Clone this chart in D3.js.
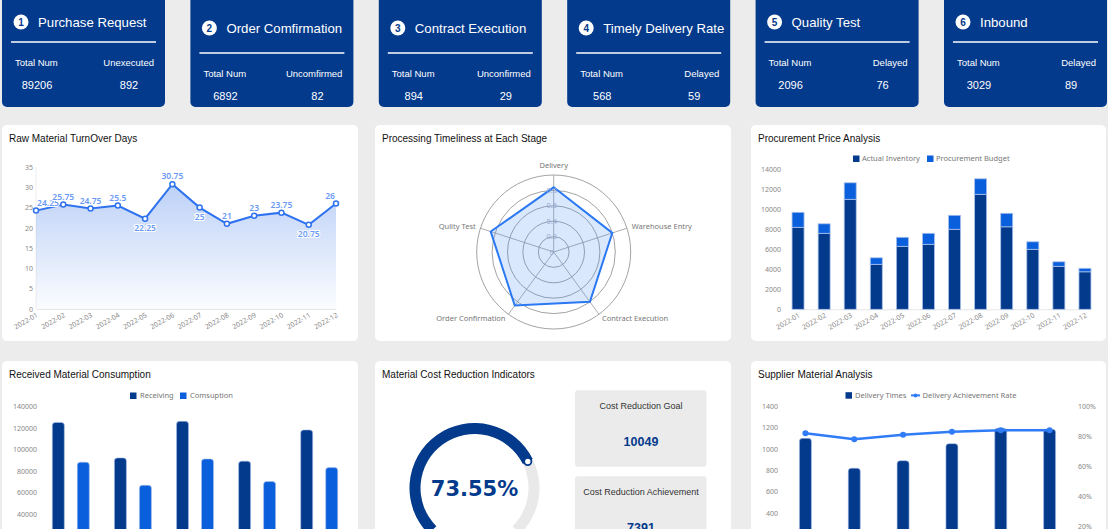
<!DOCTYPE html>
<html>
<head>
<meta charset="utf-8">
<script src="https://cdn.jsdelivr.net/npm/d3@7"></script>
<style>
  body { margin: 0; background: #ececec; overflow: hidden; }
  svg { display: block; }
  .axis text { font-family: 'Noto Sans', sans-serif; font-size: 7px; fill: #888; }
  .legend text { font-family: 'Noto Sans', sans-serif; font-size: 7.5px; fill: #777; }
</style>
</head>
<body>
<svg id="dash" width="1108" height="529"></svg>
<script>
/* globals d3 */

// ---- top cards
const cardTitles = ['Purchase Request', 'Order Comfirmation', 'Contract Execution', 'Timely Delivery Rate', 'Quality Test', 'Inbound']
const cardLeftLabels = ['Total Num', 'Total Num', 'Total Num', 'Total Num', 'Total Num', 'Total Num']
const cardRightLabels = ['Unexecuted', 'Uncomfirmed', 'Unconfirmed', 'Delayed', 'Delayed', 'Delayed']
const cardTotals = [89206, 6892, 894, 568, 2096, 3029]
const cardPending = [892, 82, 29, 59, 76, 89]

// ---- raw material turnover
const months = ['2022-01', '2022-02', '2022-03', '2022-04', '2022-05', '2022-06', '2022-07', '2022-08', '2022-09', '2022-10', '2022-11', '2022-12']
const turnoverDays = [24.25, 25.75, 24.75, 25.5, 22.25, 30.75, 25, 21, 23, 23.75, 20.75, 26]
const turnoverBelow = [false, false, false, false, true, false, true, false, false, false, true, false]

// ---- radar
const radarStages = ['Delivery', 'Warehouse Entry', 'Contract Execution', 'Order Confirmation', 'Qulity Test']
const radarValues = [0.84, 0.8, 0.8, 0.86, 0.86]
const radarTicks = [0, 0.2, 0.4, 0.6, 0.8]

// ---- procurement price
const actualInventory = [8200, 7600, 11000, 4500, 6300, 6500, 8000, 11500, 8250, 6000, 4300, 3750]
const procurementBudget = [1500, 950, 1650, 650, 900, 1100, 1400, 1550, 1350, 750, 450, 350]

// ---- received material consumption
const materialGroups = ['Steel', 'Copper', 'Aluminum', 'Plastic', 'Rubber']
const receiving = [125000, 92000, 126000, 89000, 118000]
const consumption = [88000, 66500, 91000, 70000, 83000]

// ---- cost reduction
const reductionRate = 0.7355
const reductionGoal = 10049
const reductionAchieved = 7391

// ---- supplier analysis
const suppliers = ['Supplier A', 'Supplier B', 'Supplier C', 'Supplier D', 'Supplier E', 'Supplier F']
const deliveryTimes = [1100, 820, 890, 1050, 1195, 1185]
const deliveryRate = [0.82, 0.78, 0.81, 0.83, 0.84, 0.84]

const NAVY = '#033a8c'
const BLUE = '#0a5fdc'
const LINE_BLUE = '#2f72ef'
const TITLE_FONT = "'Liberation Sans', Arial, sans-serif"

const svg = d3.select('#dash')

// ---------- top cards
cardTitles.forEach(function (title, i) {
  const low = i >= 1 && i <= 3
  const g = svg.append('g').attr('transform', 'translate(' + (2 + i * 188.4) + ',0)')
  g.append('rect').attr('x', 0).attr('y', -6).attr('width', 163).attr('height', 113)
    .attr('rx', 5).attr('fill', NAVY)
  const cy = low ? 28 : 22
  g.append('circle').attr('cx', 19).attr('cy', cy).attr('r', 7.5).attr('fill', '#fff')
  g.append('text').attr('x', 19).attr('y', cy + 3.6).attr('text-anchor', 'middle')
    .style('font', 'bold 10px ' + TITLE_FONT).attr('fill', NAVY).text(i + 1)
  g.append('text').attr('x', 36).attr('y', cy + 4.7)
    .style('font', '13.2px ' + TITLE_FONT).attr('fill', '#fff').text(title)
  const ly = low ? 53 : 42
  g.append('line').attr('x1', 9).attr('x2', 154).attr('y1', ly).attr('y2', ly)
    .attr('stroke', '#fff').attr('stroke-width', 1.6)
  g.append('text').attr('x', 13).attr('y', ly + 23.5)
    .style('font', '9.5px ' + TITLE_FONT).attr('fill', '#fff').text(cardLeftLabels[i])
  g.append('text').attr('x', 152).attr('y', ly + 23.5).attr('text-anchor', 'end')
    .style('font', '9.5px ' + TITLE_FONT).attr('fill', '#fff').text(cardRightLabels[i])
  g.append('text').attr('x', 35).attr('y', ly + 47).attr('text-anchor', 'middle')
    .style('font', '11px ' + TITLE_FONT).attr('fill', '#fff').text(cardTotals[i])
  g.append('text').attr('x', 127).attr('y', ly + 47).attr('text-anchor', 'middle')
    .style('font', '11px ' + TITLE_FONT).attr('fill', '#fff').text(cardPending[i])
})

// ---------- panels
function panel (x, y, w, h, title) {
  svg.append('rect').attr('x', x).attr('y', y).attr('width', w).attr('height', h)
    .attr('rx', 5).attr('fill', '#fff')
  svg.append('text').attr('x', x + 7).attr('y', y + 17)
    .style('font', '10px ' + TITLE_FONT).attr('fill', '#111').text(title)
}
panel(2, 125, 356, 216, 'Raw Material TurnOver Days')
panel(375, 125, 356, 216, 'Processing Timeliness at Each Stage')
panel(751, 125, 355, 216, 'Procurement Price Analysis')
panel(2, 361, 356, 200, 'Received Material Consumption')
panel(375, 361, 356, 200, 'Material Cost Reduction Indicators')
panel(751, 361, 355, 200, 'Supplier Material Analysis')

function rotatedXAxis (scale, y) {
  const ax = svg.append('g').attr('class', 'axis').attr('transform', 'translate(0,' + y + ')')
    .call(d3.axisBottom(scale).tickSize(0))
  ax.select('.domain').attr('stroke', '#e6e6e6')
  ax.selectAll('text').attr('x', -2).attr('y', 5).attr('dy', '0.35em')
    .attr('transform', 'rotate(-30)').style('text-anchor', 'end')
  return ax
}
function leftAxis (scale, x, ticks, fmt) {
  const ax = svg.append('g').attr('class', 'axis').attr('transform', 'translate(' + x + ',0)')
    .call(d3.axisLeft(scale).tickValues(ticks).tickSize(0).tickPadding(3).tickFormat(fmt || d3.format('d')))
  ax.select('.domain').remove()
  return ax
}
function topRounded (x, y, w, h, r) {
  return 'M' + x + ',' + (y + h) + 'V' + (y + r) + 'Q' + x + ',' + y + ' ' + (x + r) + ',' + y +
    'H' + (x + w - r) + 'Q' + (x + w) + ',' + y + ' ' + (x + w) + ',' + (y + r) + 'V' + (y + h) + 'Z'
}

// ---------- chart 1: turnover line
;(function () {
  const x = d3.scalePoint().domain(months).range([36, 336])
  const y = d3.scaleLinear().domain([0, 35]).range([309, 167])
  leftAxis(y, 36, d3.range(0, 36, 5))
  svg.append('line').attr('x1', 36).attr('x2', 36).attr('y1', 167).attr('y2', 309).attr('stroke', '#eee')
  rotatedXAxis(x, 309)

  const grad = svg.append('defs').append('linearGradient').attr('id', 'turnGrad')
    .attr('x1', 0).attr('x2', 0).attr('y1', 0).attr('y2', 1)
  grad.append('stop').attr('offset', '0%').attr('stop-color', '#2f6fe8').attr('stop-opacity', 0.32)
  grad.append('stop').attr('offset', '100%').attr('stop-color', '#2f6fe8').attr('stop-opacity', 0.02)

  const pts = months.map(function (m, i) { return { m: m, v: turnoverDays[i], below: turnoverBelow[i] } })
  svg.append('path').datum(pts).attr('fill', 'url(#turnGrad)')
    .attr('d', d3.area().x(d => x(d.m)).y0(y(0)).y1(d => y(d.v)))
  svg.append('path').datum(pts).attr('fill', 'none').attr('stroke', LINE_BLUE).attr('stroke-width', 2)
    .attr('d', d3.line().x(d => x(d.m)).y(d => y(d.v)))
  svg.selectAll('.tp').data(pts).enter().append('circle')
    .attr('cx', d => x(d.m)).attr('cy', d => y(d.v)).attr('r', 2.5)
    .attr('fill', '#fff').attr('stroke', LINE_BLUE).attr('stroke-width', 1.5)
  // labels kept inside the plot edges
  svg.selectAll('.tl').data(pts).enter().append('text')
    .attr('x', d => Math.min(Math.max(x(d.m), 48), 330))
    .attr('y', d => y(d.v) + (d.below ? 12 : -5))
    .attr('text-anchor', 'middle')
    .style('font', '600 8.5px "Noto Sans", sans-serif')
    .attr('fill', '#6a9af6').attr('stroke', '#fff').attr('stroke-width', 2)
    .attr('paint-order', 'stroke').text(d => d.v)
})()

// ---------- chart 2: radar
;(function () {
  const cx = 553.7
  const cy = 252
  const r = d3.scaleLinear().domain([0, 1]).range([0, 77])
  const g = svg.append('g').attr('transform', 'translate(' + cx + ',' + cy + ')')
  const angle = i => i * 2 * Math.PI / radarStages.length
  ;[0.2, 0.4, 0.6, 0.8, 1].forEach(function (t) {
    g.append('circle').attr('r', r(t)).attr('fill', 'none').attr('stroke', '#8c8c8c').attr('stroke-width', 0.8)
  })
  radarStages.forEach(function (s, i) {
    const a = angle(i)
    g.append('line').attr('x2', r(1) * Math.sin(a)).attr('y2', -r(1) * Math.cos(a))
      .attr('stroke', '#999').attr('stroke-width', 0.8)
    const lx = (r(1) + 5) * Math.sin(a)
    const ly = -(r(1) + 5) * Math.cos(a)
    const sn = Math.sin(a)
    g.append('text').attr('x', lx).attr('y', ly + (Math.cos(a) > 0.9 ? -2 : 2.5))
      .attr('text-anchor', sn > 0.1 ? 'start' : (sn < -0.1 ? 'end' : 'middle'))
      .style('font', '7.5px "Noto Sans", sans-serif').attr('fill', '#777').text(s)
  })
  g.append('path').datum(radarValues)
    .attr('d', d3.lineRadial().angle((d, i) => angle(i)).radius(d => r(d)).curve(d3.curveLinearClosed))
    .attr('fill', 'rgba(70,140,245,0.2)').attr('stroke', '#2a78f2').attr('stroke-width', 2)
  radarTicks.forEach(function (t) {
    g.append('text').attr('x', -2).attr('y', -r(t) + 2.5).attr('text-anchor', 'middle')
      .style('font', '7.5px "Noto Sans", sans-serif').attr('fill', '#9aabd0').text(t)
  })
})()

// ---------- chart 3: procurement stacked bars
;(function () {
  const x = d3.scaleBand().domain(months).range([785, 1098])
  const y = d3.scaleLinear().domain([0, 14000]).range([309.3, 169.3])
  leftAxis(y, 784, d3.range(0, 14001, 2000))
  rotatedXAxis(d3.scalePoint().domain(months).range([x(months[0]) + x.bandwidth() / 2, x(months[11]) + x.bandwidth() / 2]), 309.3)
  const bw = 12
  months.forEach(function (m, i) {
    const cx = x(m) + x.bandwidth() / 2
    svg.append('rect').attr('x', cx - bw / 2).attr('y', y(actualInventory[i]))
      .attr('width', bw).attr('height', y(0) - y(actualInventory[i]))
      .attr('fill', NAVY).attr('stroke', '#a9c0ea').attr('stroke-width', 0.8)
    const top = actualInventory[i] + procurementBudget[i]
    svg.append('rect').attr('x', cx - bw / 2).attr('y', y(top))
      .attr('width', bw).attr('height', y(actualInventory[i]) - y(top))
      .attr('fill', BLUE).attr('stroke', '#a9c0ea').attr('stroke-width', 0.8)
  })
  const lg = svg.append('g').attr('class', 'legend')
  lg.append('rect').attr('x', 853).attr('y', 155.5).attr('width', 6.5).attr('height', 6.5).attr('fill', NAVY)
  lg.append('text').attr('x', 862).attr('y', 161.3).text('Actual Inventory')
  lg.append('rect').attr('x', 927).attr('y', 155.5).attr('width', 6.5).attr('height', 6.5).attr('fill', BLUE)
  lg.append('text').attr('x', 936).attr('y', 161.3).text('Procurement Budget')
})()

// ---------- chart 4: received vs consumption
;(function () {
  const x = d3.scaleBand().domain(materialGroups).range([39.75, 350.25])
  const x1 = d3.scalePoint().domain(['receiving', 'consumption']).range([-12.5, 12.5])
  const y = d3.scaleLinear().domain([0, 140000]).range([556.8, 406.3])
  leftAxis(y, 40, d3.range(0, 140001, 20000))
  const ax = svg.append('g').attr('class', 'axis').attr('transform', 'translate(0,' + y(0) + ')')
    .call(d3.axisBottom(x).tickSize(0).tickPadding(6))
  ax.select('.domain').attr('stroke', '#e6e6e6')
  const bw = 12
  materialGroups.forEach(function (gname, i) {
    const c = x(gname) + x.bandwidth() / 2
    const rx = c + x1('receiving') - bw / 2
    svg.append('path').attr('d', topRounded(rx, y(receiving[i]), bw, y(0) - y(receiving[i]), 3))
      .attr('fill', NAVY).attr('stroke', '#a9c0ea').attr('stroke-width', 0.6)
    const cxx = c + x1('consumption') - bw / 2
    svg.append('path').attr('d', topRounded(cxx, y(consumption[i]), bw, y(0) - y(consumption[i]), 3))
      .attr('fill', BLUE).attr('stroke', '#a9c0ea').attr('stroke-width', 0.6)
  })
  const lg = svg.append('g').attr('class', 'legend')
  lg.append('rect').attr('x', 130).attr('y', 392.5).attr('width', 6.5).attr('height', 6.5).attr('fill', NAVY)
  lg.append('text').attr('x', 140).attr('y', 398.3).text('Receiving')
  lg.append('rect').attr('x', 180).attr('y', 392.5).attr('width', 6.5).attr('height', 6.5).attr('fill', BLUE)
  lg.append('text').attr('x', 190).attr('y', 398.3).text('Comsuption')
})()

// ---------- chart 5: cost reduction gauge
;(function () {
  const cx = 474.5
  const cy = 488
  const sweep = d3.scaleLinear().domain([0, 1]).range([-0.75 * Math.PI, 0.75 * Math.PI])
  const arc = d3.arc().innerRadius(54).outerRadius(65)
  const g = svg.append('g').attr('transform', 'translate(' + cx + ',' + cy + ')')
  g.append('path').attr('fill', '#e9e9e9')
    .attr('d', arc({ startAngle: sweep(0), endAngle: sweep(1) }))
  g.append('path').attr('fill', NAVY)
    .attr('d', arc({ startAngle: sweep(0), endAngle: sweep(reductionRate) }))
  const ea = sweep(reductionRate)
  g.append('circle').attr('cx', 59.5 * Math.sin(ea)).attr('cy', -59.5 * Math.cos(ea)).attr('r', 3.6)
    .attr('fill', '#fff').attr('stroke', NAVY).attr('stroke-width', 1.8)
  g.append('text').attr('y', 8).attr('text-anchor', 'middle')
    .style('font', 'bold 21px "DejaVu Sans", Verdana, sans-serif').attr('fill', NAVY)
    .text((reductionRate * 100).toFixed(2) + '%')

  const boxes = [['Cost Reduction Goal', reductionGoal], ['Cost Reduction Achievement', reductionAchieved]]
  boxes.forEach(function (b, i) {
    const by = 390.3 + i * 86
    svg.append('rect').attr('x', 575).attr('y', by).attr('width', 131.5).attr('height', 76.5)
      .attr('rx', 3).attr('fill', '#ebebeb')
    svg.append('text').attr('x', 641).attr('y', by + 18.5).attr('text-anchor', 'middle')
      .style('font', '9px ' + TITLE_FONT).attr('fill', '#333').text(b[0])
    svg.append('text').attr('x', 641).attr('y', by + 55.5).attr('text-anchor', 'middle')
      .style('font', 'bold 12.5px ' + TITLE_FONT).attr('fill', NAVY).text(b[1])
  })
})()

// ---------- chart 6: supplier bars + rate line
;(function () {
  const x = d3.scaleBand().domain(suppliers).range([781, 1074])
  const y = d3.scaleLinear().domain([0, 1400]).range([555.7, 406.3])
  const y2 = d3.scaleLinear().domain([0, 1]).range([556.3, 406.3])
  leftAxis(y, 781, d3.range(0, 1401, 200))
  const ra = svg.append('g').attr('class', 'axis').attr('transform', 'translate(1075,0)')
    .call(d3.axisRight(y2).tickValues([0, 0.2, 0.4, 0.6, 0.8, 1]).tickSize(0).tickPadding(3).tickFormat(d3.format('.0%')))
  ra.select('.domain').remove()
  ra.selectAll('text').attr('fill', '#a8b4cc')
  const bw = 12
  suppliers.forEach(function (s, i) {
    const c = x(s) + x.bandwidth() / 2
    svg.append('path').attr('d', topRounded(c - bw / 2, y(deliveryTimes[i]), bw, y(0) - y(deliveryTimes[i]), 3))
      .attr('fill', NAVY).attr('stroke', '#a9c0ea').attr('stroke-width', 0.6)
  })
  const pts = suppliers.map((s, i) => ({ s: s, v: deliveryRate[i] }))
  svg.append('path').datum(pts).attr('fill', 'none').attr('stroke', '#2f7cf6').attr('stroke-width', 2.5)
    .attr('d', d3.line().x(d => x(d.s) + x.bandwidth() / 2).y(d => y2(d.v)))
  svg.selectAll('.sp').data(pts).enter().append('circle')
    .attr('cx', d => x(d.s) + x.bandwidth() / 2).attr('cy', d => y2(d.v)).attr('r', 3)
    .attr('fill', '#2f7cf6')
  const lg = svg.append('g').attr('class', 'legend')
  lg.append('rect').attr('x', 845.5).attr('y', 392.2).attr('width', 6.5).attr('height', 6.5).attr('fill', NAVY)
  lg.append('text').attr('x', 855).attr('y', 398).text('Delivery Times')
  lg.append('line').attr('x1', 911).attr('x2', 920).attr('y1', 395.4).attr('y2', 395.4)
    .attr('stroke', '#2f7cf6').attr('stroke-width', 2)
  lg.append('circle').attr('cx', 915.5).attr('cy', 395.4).attr('r', 2).attr('fill', '#2f7cf6')
  lg.append('text').attr('x', 922.5).attr('y', 398).text('Delivery Achievement Rate')
})()
</script>
</body>
</html>
